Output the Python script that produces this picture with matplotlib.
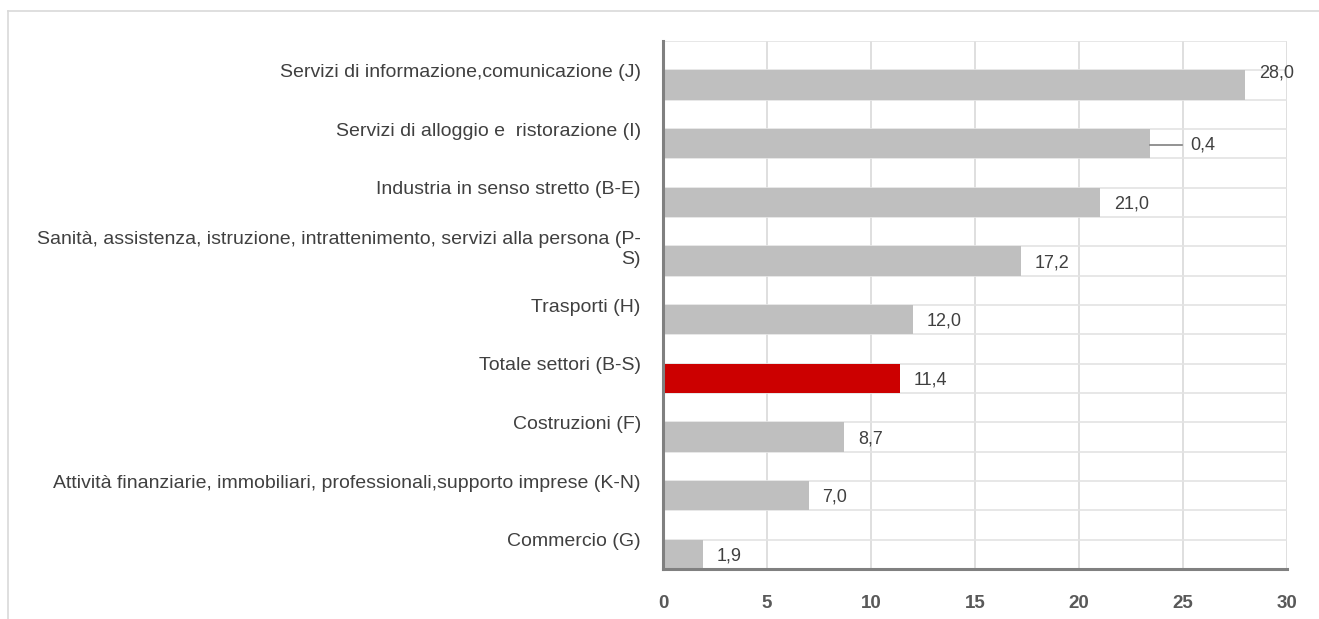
import matplotlib
matplotlib.use("Agg")
import matplotlib.pyplot as plt
from matplotlib.lines import Line2D
import numpy as np

plt.rcParams['font.family'] = ['Liberation Sans', 'DejaVu Sans']

# dati
categorie = [
    "Servizi di informazione,comunicazione (J)",
    "Servizi di alloggio e  ristorazione (I)",
    "Industria in senso stretto (B-E)",
    "Sanità, assistenza, istruzione, intrattenimento, servizi alla persona (P-\nS)",
    "Trasporti (H)",
    "Totale settori (B-S)",
    "Costruzioni (F)",
    "Attività finanziarie, immobiliari, professionali,supporto imprese (K-N)",
    "Commercio (G)",
]
valori = [28.0, 23.4, 21.0, 17.2, 12.0, 11.4, 8.7, 7.0, 1.9]
etichette = ["28,0", "0,4", "21,0", "17,2", "12,0", "11,4", "8,7", "7,0", "1,9"]
evidenziato = "Totale settori (B-S)"
xticks = [0, 5, 10, 15, 20, 25, 30]

GRIGIO = "#bfbfbf"
ROSSO = "#cc0000"
TESTO = "#404040"

fig = plt.figure(figsize=(13.19, 6.19), dpi=100)
W, H = 1319, 619
ax = fig.add_axes([663 / W, 1 - 569 / H, (1287 - 663) / W, (569 - 41) / H])

# cornice esterna chiara
fig.add_artist(Line2D([8 / W, 1], [1 - 11 / H, 1 - 11 / H], color="#d9d9d9", lw=1.2))
fig.add_artist(Line2D([8 / W, 8 / W], [0, 1 - 11 / H], color="#d9d9d9", lw=1.2))

y = np.arange(len(categorie))
colori = [ROSSO if c == evidenziato else GRIGIO for c in categorie]
ax.barh(y + 0.25, valori, height=0.5, color=colori, zorder=2)

# griglia: verticale ogni 5, orizzontale ogni mezza banda
for xv in xticks[1:]:
    ax.axvline(xv, color="#d9d9d9", lw=1.2, zorder=1)
for yv in np.arange(-0.5, len(categorie), 0.5):
    ax.axhline(yv, color="#e3e3e3", lw=1.2, zorder=1)

ax.set_xlim(0, 30)
ax.set_ylim(len(categorie) - 0.5, -0.5)
ax.set_xticks(xticks)
ax.set_yticks(y)
ax.set_yticklabels(categorie, fontsize=14, color=TESTO, linespacing=1.2)
ax.tick_params(axis="y", length=0, pad=16)
ax.tick_params(axis="x", length=0, pad=19, labelsize=13.5, labelcolor="#595959")
for t in ax.get_xticklabels():
    t.set_fontweight("bold")

for s in ["top", "right"]:
    ax.spines[s].set_visible(False)
for s in ["left", "bottom"]:
    ax.spines[s].set_color("#808080")
    ax.spines[s].set_linewidth(2.2)
    ax.spines[s].set_zorder(3)

# etichette dei valori
px = 30 / (1287 - 663)
for i, (v, lab) in enumerate(zip(valori, etichette)):
    yy = i + 0.28
    xx = v + 14 * px
    if i == 0:
        yy = i + 0.05
    if lab == "0,4":
        ax.plot([v, v + 32 * px], [yy, yy], color="#808080", lw=1.2, zorder=3)
        xx = v + 41 * px
    ax.text(xx, yy, lab, ha="left", va="center", fontsize=13, color=TESTO, zorder=4)

fig.savefig("out.png", dpi=100)
